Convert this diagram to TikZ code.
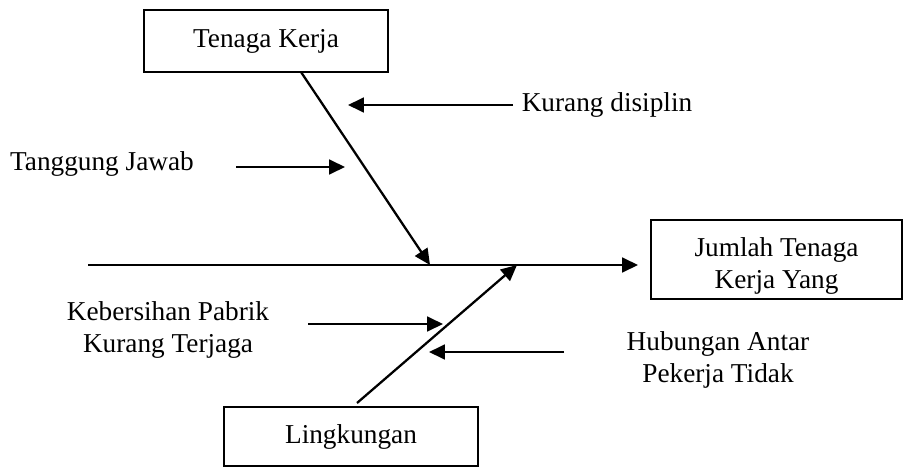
\documentclass[tikz,border=0pt]{standalone}
\usepackage{fontspec}
\setmainfont{Liberation Serif}
\usetikzlibrary{arrows.meta}

\begin{document}
\begin{tikzpicture}[x=0.44pt,y=-0.44pt,
		box/.style={draw,line width=0.9pt,inner sep=0pt,align=center,font=\fontsize{12}{14}\selectfont},
		lbl/.style={inner sep=0pt,align=center,font=\fontsize{12}{14}\selectfont},
		arr/.style={-{Triangle[length=7pt,width=6.5pt]},line width=1.1pt}]
				\useasboundingbox (0,0) rectangle (905,468);
				% boxes
				\node[box,minimum width=107.4pt,minimum height=27.3pt] (tk) at (266,41) {Tenaga Kerja};
				\node[box,minimum width=110.4pt,minimum height=34.8pt,
					label={[lbl,yshift=-3pt]center:Jumlah Tenaga\\Kerja Yang}] (jt) at (776.5,259.5) {};
				\node[box,minimum width=112pt,minimum height=26pt] (lk) at (351,436.5) {Lingkungan};
				% labels
				\node[lbl] (kd) at (607,105) {Kurang disiplin};
				\node[lbl] (tj) at (102,164) {Tanggung Jawab};
				\node[lbl] (kp) at (168,330) {Kebersihan Pabrik\\Kurang Terjaga};
				\node[lbl] (ha) at (718,360) {Hubungan Antar\\Pekerja Tidak};
				% ends
				\coordinate (tail) at (88,265);
				\coordinate (head) at (638,265);
				\coordinate (tkfoot) at (301,72);
				\coordinate (tkhead) at (430,265);
				\coordinate (lkfoot) at (357,403);
				\coordinate (lkhead) at (517,265);
				\coordinate (kd1) at (513,105);
				\coordinate (kd2) at (348,105);
				\coordinate (tj1) at (236,167);
				\coordinate (tj2) at (345,167);
				\coordinate (kp1) at (308,324);
				\coordinate (kp2) at (443,324);
				\coordinate (ha1) at (564,352);
				\coordinate (ha2) at (429,352);
				\draw[arr] (tail) -- (head);
				\draw[arr,line width=1pt] (tkfoot) -- (tkhead);
				\draw[arr,line width=1pt] (lkfoot) -- (lkhead);
				\draw[arr] (kd1) -- (kd2);
				\draw[arr] (tj1) -- (tj2);
				\draw[arr] (kp1) -- (kp2);
				\draw[arr] (ha1) -- (ha2);
			\end{tikzpicture}
\end{document}
